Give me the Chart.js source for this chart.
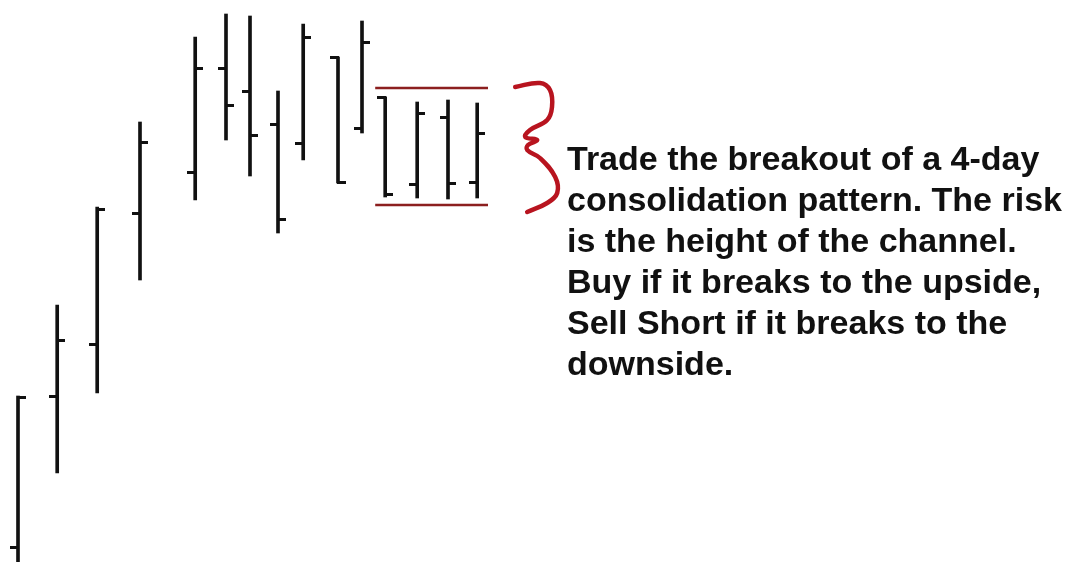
<!DOCTYPE html>
<html>
<head>
<meta charset="utf-8">
<script src="https://cdn.jsdelivr.net/npm/chart.js@4/dist/chart.umd.min.js"></script>
<style>
  body { margin: 0; background: #fff; }
  #wrap { position: relative; width: 1075px; height: 562px; }
  #note {
    position: absolute; left: 567px; top: 138px;
    font-family: "Liberation Sans", Arial, sans-serif; font-weight: bold;
    font-size: 34px; line-height: 41px; color: #111; white-space: nowrap;
  }
</style>
</head>
<body>
<div id="wrap">
  <canvas id="chart" width="1075" height="562"></canvas>
  <div id="note">Trade the breakout of a 4-day<br>consolidation pattern. The risk<br>is the height of the channel.<br>Buy if it breaks to the upside,<br>Sell Short if it breaks to the<br>downside.</div>
</div>
<script>
// Datos OHLC (día, apertura, máximo, mínimo, cierre)
const days   = [0.45, 1.43, 2.43, 3.5, 4.88, 5.65, 6.25, 6.95, 7.58, 8.45, 9.05, 9.63, 10.43, 11.2, 11.93];
const opens  = [13.0, 43.2, 53.6, 79.8, 88.0, 108.8, 104.2, 97.6, 93.8, 111.0, 96.8, 103.0, 85.6, 99.0, 86.0];
const highs  = [43.2, 61.4, 81.0, 98.0, 115.0, 119.6, 119.2, 104.2, 117.6, 111.0, 118.2, 103.0, 102.0, 102.4, 101.8];
const lows   = [7.0, 27.8, 43.8, 66.4, 82.4, 94.4, 87.2, 75.8, 90.4, 85.8, 95.8, 83.0, 82.8, 82.6, 82.8];
const closes = [43.0, 54.4, 80.6, 94.0, 108.8, 101.4, 95.4, 78.6, 115.0, 86.0, 114.0, 83.6, 99.8, 85.8, 95.8];

// Canal de consolidación
const channelX = [9.38, 12.2];
const channelTop = 104.8;
const channelBottom = 81.4;

// Llave roja dibujada a mano
const braceX = [12.88, 13.5, 13.75, 13.8, 13.68, 13.25, 13.13, 13.43, 13.2, 13.18, 13.5, 13.88, 13.93, 13.68, 13.18];
const braceY = [105.0, 105.8, 104.4, 101.0, 98.4, 96.4, 95.0, 94.4, 93.4, 92.4, 90.8, 87.0, 83.8, 81.8, 80.0];

// Marcas de apertura (izquierda) y cierre (derecha)
function tickImage(side) {
  const c = document.createElement('canvas');
  c.width = 16; c.height = 3;
  const g = c.getContext('2d');
  g.fillStyle = '#111';
  if (side === 'left') g.fillRect(0, 0, 9, 3);
  else g.fillRect(7, 0, 9, 3);
  return c;
}

const ctx = document.getElementById('chart').getContext('2d');
new Chart(ctx, {
  type: 'bar',
  data: {
    datasets: [
      {
        type: 'bar',
        data: days.map((d, i) => ({ x: d, y: [lows[i], highs[i]] })),
        backgroundColor: '#111',
        borderWidth: 0,
        barThickness: 3,
        grouped: false
      },
      {
        type: 'line',
        data: days.map((d, i) => ({ x: d, y: opens[i] })),
        showLine: false,
        pointStyle: tickImage('left')
      },
      {
        type: 'line',
        data: days.map((d, i) => ({ x: d, y: closes[i] })),
        showLine: false,
        pointStyle: tickImage('right')
      },
      {
        type: 'line',
        data: channelX.map(x => ({ x, y: channelTop })),
        borderColor: '#8c1f1f',
        borderWidth: 2.5,
        pointRadius: 0
      },
      {
        type: 'line',
        data: channelX.map(x => ({ x, y: channelBottom })),
        borderColor: '#8c1f1f',
        borderWidth: 2.5,
        pointRadius: 0
      },
      {
        type: 'line',
        data: braceX.map((x, i) => ({ x, y: braceY[i] })),
        borderColor: '#b8141f',
        borderWidth: 4.5,
        borderCapStyle: 'round',
        borderJoinStyle: 'round',
        tension: 0.4,
        pointRadius: 0
      }
    ]
  },
  options: {
    responsive: false,
    animation: false,
    layout: { padding: 0, autoPadding: false },
    plugins: { legend: { display: false }, tooltip: { enabled: false } },
    scales: {
      x: { type: 'linear', min: 0, max: 26.875, offset: false, display: false },
      y: { type: 'linear', min: 10, max: 122.4, display: false }
    }
  }
});
</script>
</body>
</html>
